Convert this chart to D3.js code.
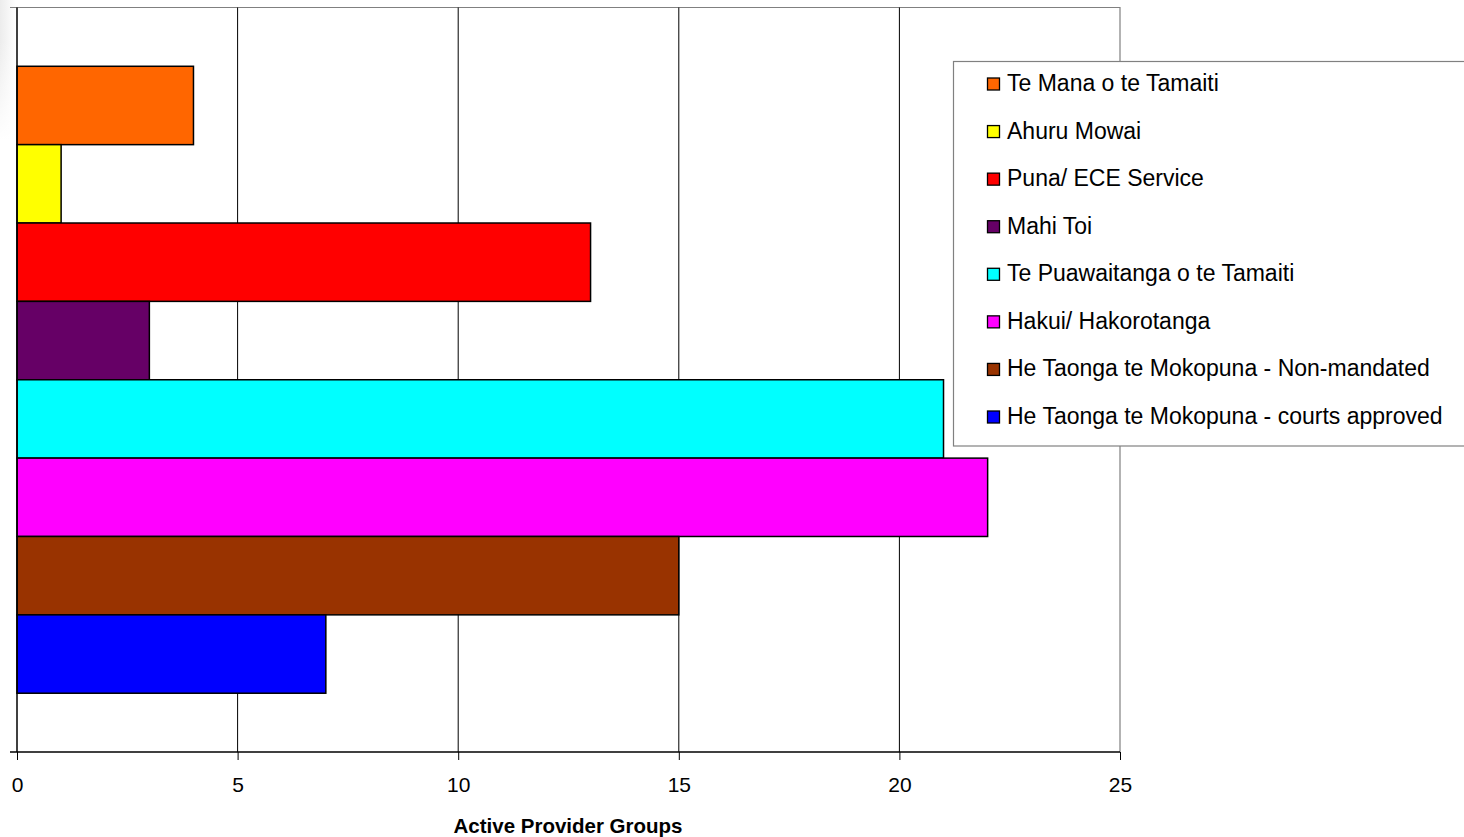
<!DOCTYPE html>
<html><head><meta charset="utf-8">
<script src="https://cdn.jsdelivr.net/npm/d3@7"></script>
<style>body{margin:0;background:#fff;}svg{display:block;font-family:"Liberation Sans",Arial,sans-serif;}</style>
</head><body>
<svg id="c" width="1464" height="837"></svg>
<script>
const seriesNames = ["Te Mana o te Tamaiti","Ahuru Mowai","Puna/ ECE Service","Mahi Toi","Te Puawaitanga o te Tamaiti","Hakui/ Hakorotanga","He Taonga te Mokopuna - Non-mandated","He Taonga te Mokopuna - courts approved"];
const seriesValues = [4,1,13,3,21,22,15,7];
const seriesColors = ["#FF6600","#FFFF00","#FF0000","#660066","#00FFFF","#FF00FF","#993300","#0000FF"];
const xTicks = [0,5,10,15,20,25];
const xTitle = "Active Provider Groups";

const svg = d3.select("#c");
const L = 17, R = 1120, T = 7.5, B = 752;
const x = d3.scaleLinear().domain([0,25]).range([L,R]);
const y = d3.scaleBand().domain(seriesNames).range([T,B]).paddingOuter(0.75).paddingInner(0);

// subtle edge shading
const defs = svg.append("defs");
const g1 = defs.append("linearGradient").attr("id","sh").attr("x1","0").attr("x2","1").attr("y1","0").attr("y2","0");
g1.append("stop").attr("offset","0").attr("stop-color","#ececec");
g1.append("stop").attr("offset","1").attr("stop-color","#ffffff");
const g2 = defs.append("linearGradient").attr("id","sh2").attr("x1","0").attr("x2","0").attr("y1","0").attr("y2","1");
g2.append("stop").attr("offset","0").attr("stop-color","#ffffff").attr("stop-opacity",0);
g2.append("stop").attr("offset","1").attr("stop-color","#ffffff").attr("stop-opacity",1);
svg.append("rect").attr("x",0).attr("y",0).attr("width",16).attr("height",140).attr("fill","url(#sh)");
svg.append("rect").attr("x",0).attr("y",40).attr("width",16).attr("height",100).attr("fill","url(#sh2)");

// plot border (top/right) gray
svg.append("path").attr("d",`M${L-7},${T}H${R}V${B}`).attr("fill","none").attr("stroke","#808080").attr("stroke-width",1.2);

// gridlines
svg.append("g").selectAll("line").data(xTicks.filter(d=>d>0&&d<25)).join("line")
  .attr("x1",d=>x(d)).attr("x2",d=>x(d)).attr("y1",T).attr("y2",B)
  .attr("stroke","#000").attr("stroke-width",1);

// bars
svg.append("g").selectAll("rect").data(seriesNames).join("rect")
  .attr("x",x(0)).attr("y",d=>y(d)).attr("width",(d,i)=>x(seriesValues[i])-x(0)).attr("height",y.bandwidth())
  .attr("fill",(d,i)=>seriesColors[i]).attr("stroke","#000").attr("stroke-width",1.5);

// x axis
const xa = svg.append("g").attr("transform",`translate(0,${B})`)
  .call(d3.axisBottom(x).tickValues(xTicks).tickSize(8).tickPadding(17));
xa.select(".domain").attr("stroke","#000").attr("stroke-width",1.5).attr("d",`M${L},0H${R}`);
xa.selectAll(".tick line").attr("stroke","#000");
xa.selectAll(".tick text").attr("font-size",21).attr("fill","#000").attr("font-family","Liberation Sans, Arial, sans-serif");

// y axis line and tick
svg.append("line").attr("x1",L).attr("x2",L).attr("y1",T).attr("y2",B).attr("stroke","#000").attr("stroke-width",1.5);
svg.append("line").attr("x1",L-7).attr("x2",L).attr("y1",B).attr("y2",B).attr("stroke","#000").attr("stroke-width",1.5);

// axis title
svg.append("text").attr("x",568).attr("y",833).attr("text-anchor","middle")
  .attr("font-size",20.5).attr("font-weight","bold").text(xTitle);

// legend
const lg = svg.append("g");
lg.append("rect").attr("x",953.5).attr("y",61.5).attr("width",520).attr("height",384.5)
  .attr("fill","#fff").attr("stroke","#808080").attr("stroke-width",1.2);
const ly = d3.scalePoint().domain(seriesNames).range([84,417]);
const items = lg.selectAll("g").data(seriesNames).join("g").attr("transform",d=>`translate(0,${ly(d)})`);
items.append("rect").attr("x",987.5).attr("y",-6).attr("width",12).attr("height",12)
  .attr("fill",(d,i)=>seriesColors[i]).attr("stroke","#000").attr("stroke-width",1.3);
items.append("text").attr("x",1007).attr("y",7).attr("font-size",23).attr("fill","#000").text(d=>d);
</script>
</body></html>
